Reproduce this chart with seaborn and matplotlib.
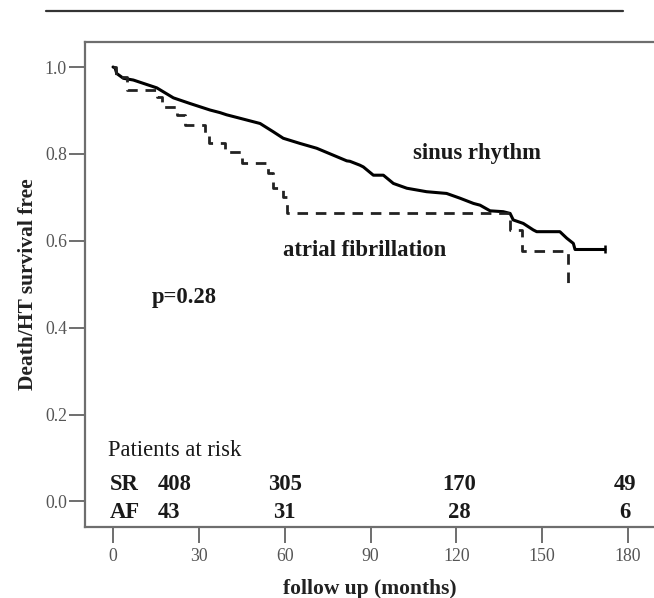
import matplotlib
matplotlib.use("Agg")
import matplotlib.pyplot as plt
from matplotlib.lines import Line2D
import numpy as np
import pandas as pd
import seaborn as sns

# ---- data ----
sr_months = [0, 0.7, 1.3, 3.6, 7.1, 15.3, 21.1, 26.9, 33.9, 37.4, 39.7, 44.4, 51.4, 56, 59.5,
             65.4, 71.2, 77, 81.7, 82.8, 86.3, 87.5, 91, 94.5, 98, 102.7, 109.6, 116.6, 121.3,
             126, 128.3, 131.8, 136.4, 138.8, 139.9, 143.4, 146.9, 148.1, 156.2,
             158.6, 160.9, 161.5, 172]
sr_surv = [1.0, 0.998, 0.985, 0.974, 0.970, 0.952, 0.929, 0.916, 0.901, 0.895, 0.890, 0.882, 0.870, 0.851, 0.836,
           0.824, 0.813, 0.797, 0.784, 0.783, 0.774, 0.770, 0.751, 0.751, 0.732, 0.721, 0.713, 0.709, 0.698,
           0.686, 0.682, 0.669, 0.667, 0.663, 0.648, 0.640, 0.625, 0.621, 0.621,
           0.606, 0.594, 0.580, 0.580]

af_months = [0, 1, 5, 15.3, 17, 22.3, 25.3, 32.2, 33.5, 39, 45, 54.3, 56, 59.5, 60.7, 138.8, 142.8, 159.2]
af_surv = [1.0, 0.976, 0.947, 0.930, 0.907, 0.889, 0.866, 0.843, 0.824, 0.805, 0.778, 0.755, 0.721, 0.700,
           0.665, 0.625, 0.577, 0.50]

x_ticks = [0, 30, 60, 90, 120, 150, 180]
y_ticks = [0.0, 0.2, 0.4, 0.6, 0.8, 1.0]

risk_months = [60, 121, 179]
sr_risk = ["305", "170", "49"]
af_risk = ["31", "28", "6"]
sr_risk_first = "408"
af_risk_first = "43"

sr_df = pd.DataFrame({"month": sr_months, "surv": sr_surv})
af_df = pd.DataFrame({"month": af_months, "surv": af_surv})

sns.set_theme(style="white")
plt.rcParams["font.family"] = ["Liberation Serif", "DejaVu Serif"]

fig = plt.figure(figsize=(6.54, 5.98), dpi=100)
ax = fig.add_axes([85 / 654, (598 - 527) / 598, (654 - 85) / 654, (527 - 41.5) / 598])

sns.lineplot(data=sr_df, x="month", y="surv", ax=ax, estimator=None, sort=False,
             color="black", linewidth=2.2)
sns.lineplot(data=af_df, x="month", y="surv", ax=ax, estimator=None, sort=False,
             drawstyle="steps-post", color="#222222", linewidth=2.0, dashes=False,
             linestyle=(0, (3.8, 2.8)))
# censor tick at end of SR curve
ax.plot([sr_months[-1]], [sr_surv[-1]], marker="|", markersize=6, color="black", mew=1.8)

ax.set_xlim(-9.8, 189.1)
ax.set_ylim(-0.0587, 1.0587)
ax.set_xticks(x_ticks)
ax.set_yticks(y_ticks)
ax.set_xticklabels([str(t) for t in x_ticks])
ax.set_yticklabels([f"{t:.1f}" for t in y_ticks])

for s in ["left", "top", "bottom"]:
    ax.spines[s].set_color("#6e6e6e")
    ax.spines[s].set_linewidth(1.6)
ax.spines["right"].set_visible(False)

ax.tick_params(axis="both", which="major", length=11.5, width=1.4, color="#6e6e6e",
               labelsize=12.8, labelcolor="#555555", direction="out")
ax.tick_params(axis="y", pad=1.5)
ax.tick_params(axis="x", pad=3.5)
ax.yaxis.set_ticks_position("left")
ax.xaxis.set_ticks_position("bottom")

ax.set_xlabel("follow up (months)", fontsize=15.5, fontweight="bold", color="#222222", labelpad=10)
ax.set_ylabel("Death/HT survival free", fontsize=15.5, fontweight="bold", color="#222222", labelpad=5)

txt = dict(fontweight="bold", fontsize=16.3, color="#1a1a1a")
ax.text(105, 0.80, "sinus rhythm", ha="left", va="center", **txt)
ax.text(59.5, 0.578, "atrial fibrillation", ha="left", va="center", **txt)
ax.text(13.5, 0.469, "p=0.28", ha="left", va="center", **txt)

ax.text(-1.8, 0.118, "Patients at risk", ha="left", va="center", fontsize=16.3, color="#1a1a1a")
ax.text(-1.0, 0.038, "SR", ha="left", va="center", **txt)
ax.text(-1.0, -0.026, "AF", ha="left", va="center", **txt)
ax.text(15.7, 0.038, sr_risk_first, ha="left", va="center", **txt)
ax.text(15.7, -0.026, af_risk_first, ha="left", va="center", **txt)
for m, a, b in zip(risk_months, sr_risk, af_risk):
    ax.text(m, 0.038, a, ha="center", va="center", **txt)
    ax.text(m, -0.026, b, ha="center", va="center", **txt)

fig.add_artist(Line2D([46 / 654, 623 / 654], [1 - 11 / 598, 1 - 11 / 598],
                      color="#333333", linewidth=1.6))

fig.savefig("out.png", dpi=100)
